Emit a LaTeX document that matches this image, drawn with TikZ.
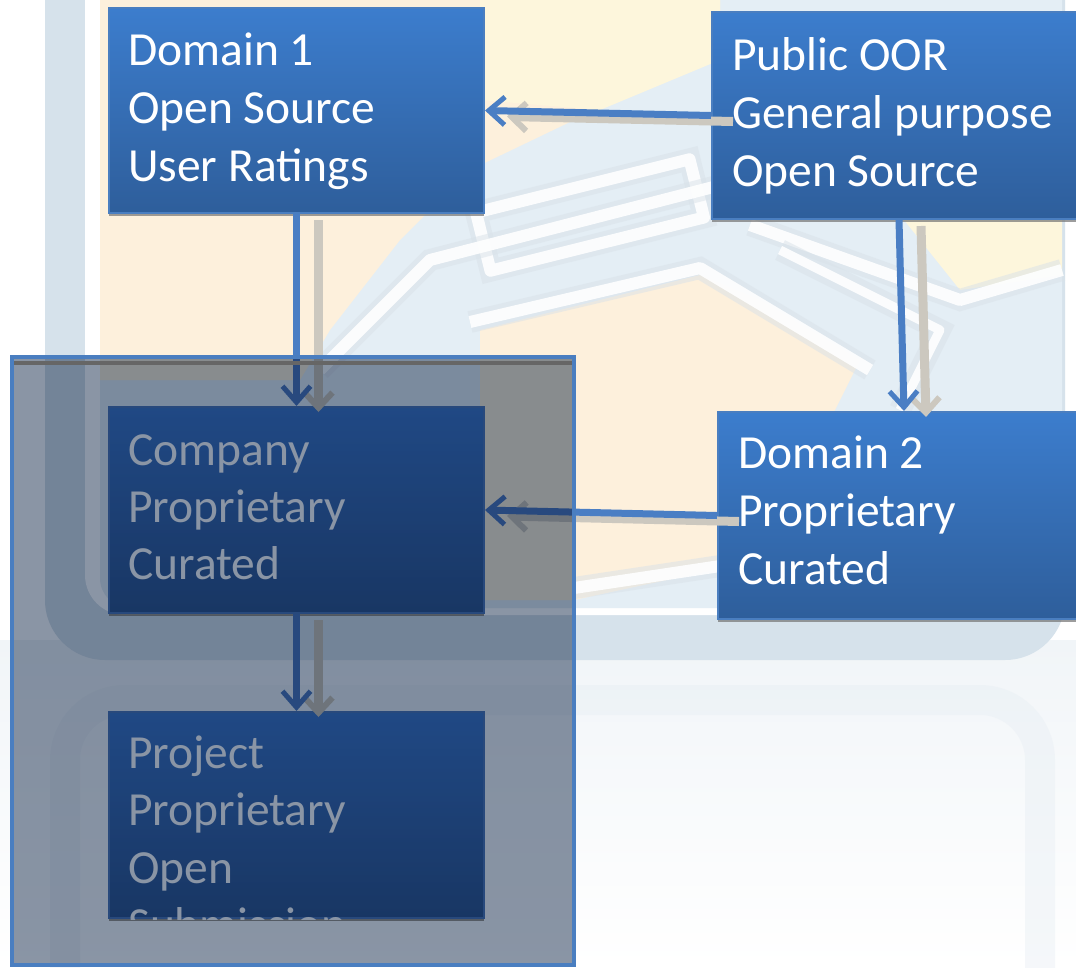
\documentclass[tikz,border=0pt]{standalone}
\usepackage{fontspec}
\setmainfont{Carlito}
\usetikzlibrary{arrows.meta,shadows}
\definecolor{boxtop}{HTML}{3C7DCD}
\definecolor{boxbot}{HTML}{2E5E9B}
\definecolor{boxedge}{HTML}{4A7EC0}
\definecolor{arrowblue}{HTML}{4A7EC4}
\definecolor{arrowshade}{HTML}{CCC8BF}
\definecolor{veil}{HTML}{8A95A5}
\definecolor{framecol}{HTML}{D6E2EB}
\definecolor{wmblue}{HTML}{E4EEF5}
\definecolor{wmhalo}{HTML}{D9E2E9}
\definecolor{wmbeige}{HTML}{FDF0DC}
\definecolor{wmyellow}{HTML}{FDF6DC}
\definecolor{lowfill}{HTML}{F1F5F8}
\tikzset{
  oorbox/.style={rectangle, draw=boxedge, line width=2pt, top color=boxtop,
    bottom color=boxbot, anchor=north west, inner sep=0pt,
    drop shadow={shadow xshift=0pt, shadow yshift=-3pt, opacity=0.7, fill=black!55}},
  oortext/.style={anchor=base west, text=white, inner sep=0pt,
    font=\fontsize{47.5}{58}\selectfont},
  flowshade/.style={-{Straight Barb[length=15pt,width=28pt,line width=6pt]},
    draw=arrowshade, line width=9pt, transform canvas={xshift=22pt,yshift=-6pt}},
  flow/.style={-{Straight Barb[length=16pt,width=28pt,line width=5pt]},
    draw=arrowblue, line width=7pt},
  stripe/.style={line width=12pt, line join=round, white, opacity=0.9,
    preaction={draw=wmhalo, line width=22pt, opacity=0.5}},
}
\begin{document}
\begin{tikzpicture}[x=1pt,y=-1pt]
  \useasboundingbox (0,0) rectangle (1076,967);
  % watermark behind the chart
  \fill[white] (0,0) rectangle (1076,967);
  \fill[top color=lowfill, bottom color=white] (0,640) rectangle (1076,967);
  \draw[lowfill!60!framecol, opacity=0.4, line width=30pt, rounded corners=60pt] (65,1100) -- (65,700) -- (1040,700) -- (1040,1100);
  \fill[framecol, rounded corners=60pt] (45,-80) rectangle (1065,660);
  \fill[white, rounded corners=40pt] (85,-80) rectangle (1042,615);
  \fill[wmblue, rounded corners=30pt] (100,-80) rectangle (1062,608);
  \fill[wmbeige] (100,-10) -- (720,-10) -- (720,50) -- (470,170) -- (400,240)
    -- (330,330) -- (300,380) -- (100,380) -- cycle;
  \fill[wmbeige] (480,330) -- (700,275) -- (760,300) -- (860,360) -- (830,420)
    -- (760,560) -- (574,600) -- (480,600) -- cycle;
  \fill[wmyellow] (900,215) -- (1062,215) -- (1062,275) -- (960,290) -- cycle;
  \fill[wmyellow] (480,-10) -- (720,-10) -- (720,60) -- (600,110) -- (480,100) -- cycle;
  \draw[stripe, rotate around={14:(590,215)}] (480,185) rectangle (700,245);
  \draw[stripe] (320,370) -- (430,260) -- (760,175);
  \draw[stripe] (470,322) -- (700,268) -- (870,370);
  \draw[stripe] (750,225) -- (960,300) -- (1062,270);
  \draw[stripe] (574,588) -- (760,560);
  \draw[stripe, line width=9pt] (780,250) -- (940,330) -- (900,410);
  % boxes
  \node[oorbox, minimum width=375pt, minimum height=205pt] (dom1) at (108,7) {};
  \node[oorbox, minimum width=374pt, minimum height=207pt] (pub) at (711,11) {};
  \node[oorbox, minimum width=375pt, minimum height=206pt] (comp) at (108,406) {};
  \node[oorbox, minimum width=372pt, minimum height=207pt] (dom2) at (717,411) {};
  \node[oorbox, minimum width=375pt, minimum height=206pt] (proj) at (108,711) {};
  % connectors, each with its soft shadow first
  \foreach \from/\to in {dom1.south/comp.north, pub.west/dom1.east,
      pub.south/dom2.north, dom2.west/comp.east, comp.south/proj.north}
    \draw[flowshade] (\from) -- (\to);
  \draw[flow] (dom1.south) -- (comp.north);
  \draw[flow] (pub.west) -- (dom1.east);
  \draw[flow] (pub.south) -- (dom2.north);
  \draw[flow] (dom2.west) -- (comp.east);
  \draw[flow] (comp.south) -- (proj.north);
  % texts
  \foreach \line [count=\i from 0] in {Domain 1,Open Source,User Ratings}
    \node[oortext] (dom1t\i) at (128,65+58*\i) {\line};
  \foreach \line [count=\i from 0] in {Public OOR,General purpose,Open Source}
    \node[oortext] (pubt\i) at (732,70+58*\i) {\line};
  \foreach \line [count=\i from 0] in {Company,Proprietary,Curated}
    \node[oortext] (compt\i) at (128,465+57*\i) {\line};
  \foreach \line [count=\i from 0] in {Domain 2,Proprietary,Curated}
    \node[oortext] (dom2t\i) at (738,468+58*\i) {\line};
  \begin{scope}
    \clip (proj.south west) rectangle (proj.north east);
    \foreach \line [count=\i from 0] in {Project,Proprietary,Open,Submission}
      \node[oortext] (projt\i) at (128,768+57.5*\i) {\line};
  \end{scope}
  % grey veil over the internal part
  \begin{scope}[blend mode=multiply]
    \fill[veil] (12,357) rectangle (574,965);
  \end{scope}
  \draw[black!60, line width=4pt] (14,363) -- (572,363);
  \draw[boxedge, line width=4pt] (12,357) rectangle (574,965);
\end{tikzpicture}
\end{document}
